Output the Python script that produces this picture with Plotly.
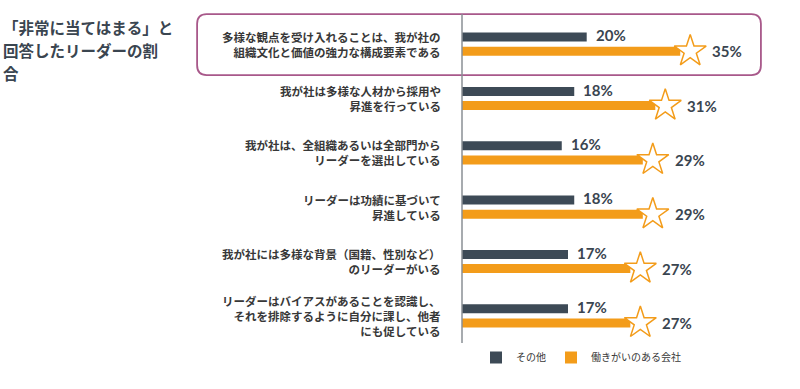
import plotly.graph_objects as go

categories = [
    "多様な観点を受け入れることは、我が社の<br>組織文化と価値の強力な構成要素である",
    "我が社は多様な人材から採用や<br>昇進を行っている",
    "我が社は、全組織あるいは全部門から<br>リーダーを選出している",
    "リーダーは功績に基づいて<br>昇進している",
    "我が社には多様な背景（国籍、性別など）<br>のリーダーがいる",
    "リーダーはバイアスがあることを認識し、<br>それを排除するように自分に課し、他者<br>にも促している",
]
other_values = [20, 18, 16, 18, 17, 17]
gptw_values = [35, 31, 29, 29, 27, 27]
series_names = ["その他", "働きがいのある会社"]
title_lines = ["「非常に当てはまる」と", "回答したリーダーの割", "合"]

DARK = "#3d4a56"
ORANGE = "#f39c1a"
TEXT = "#3a4550"
LABEL = "#383838"
BOX = "#a8588a"

ids = list(range(len(categories)))

fig = go.Figure()
fig.add_trace(go.Bar(y=ids, x=other_values, orientation="h", name=series_names[0],
                     marker=dict(color=DARK, line=dict(width=0))))
fig.add_trace(go.Bar(y=ids, x=gptw_values, orientation="h", name=series_names[1],
                     marker=dict(color=ORANGE, line=dict(width=0))))

# stars at the end of the orange bars (drawn in the orange bar's slot)
fig.add_trace(go.Scatter(
    x=[v + 1.6 for v in gptw_values], y=ids, mode="markers",
    marker=dict(symbol="star", size=24, color="white", line=dict(color=ORANGE, width=1.5)),
    showlegend=False, hoverinfo="skip",
    xaxis="x", yaxis="y2",
))

annotations = []
# title, one annotation per line
for k, line in enumerate(title_lines):
    annotations.append(dict(text=line, xref="paper", yref="paper", x=-1.428, xshift=-7,
                            y=1.0, yshift=-10 - 23 * k,
                            xanchor="left", yanchor="middle", align="left", showarrow=False,
                            font=dict(family="Noto Sans CJK JP", size=15.5, color=TEXT, weight="bold")))
for i, (cat, o, g) in enumerate(zip(categories, other_values, gptw_values)):
    annotations.append(dict(text=cat, xref="paper", yref="y", x=0, y=i, xshift=-19,
                            xanchor="right", yanchor="middle", align="right", showarrow=False,
                            font=dict(family="Noto Sans CJK JP", size=11.5, color=LABEL, weight="bold")))
    annotations.append(dict(text=f"{o}%", xref="x", yref="y", x=o, y=i, xshift=7, yshift=9,
                            xanchor="left", yanchor="middle", showarrow=False,
                            font=dict(family="Lato", size=15, color=TEXT, weight="bold")))
    annotations.append(dict(text=f"{g}%", xref="x", yref="y", x=g, y=i, xshift=30, yshift=-7,
                            xanchor="left", yanchor="middle", showarrow=False,
                            font=dict(family="Lato", size=15, color=TEXT, weight="bold")))

# rounded highlight box around first row
x0, x1, y0, y1 = -0.833, 0.940, 0.822, 1.009
rx, ry = 0.03, 0.03
path = (f"M {x0+rx},{y0} L {x1-rx},{y0} Q {x1},{y0} {x1},{y0+ry} "
        f"L {x1},{y1-ry} Q {x1},{y1} {x1-rx},{y1} L {x0+rx},{y1} Q {x0},{y1} {x0},{y1-ry} "
        f"L {x0},{y0+ry} Q {x0},{y0} {x0+rx},{y0} Z")
shapes = [
    dict(type="path", path=path, xref="paper", yref="paper",
         line=dict(color=BOX, width=1.8), fillcolor="rgba(0,0,0,0)", layer="below"),
    dict(type="line", xref="paper", yref="paper", x0=0, x1=0, y0=0, y1=1.009,
         line=dict(color="#8a8f94", width=1.5)),
]

fig.update_layout(
    width=800, height=389,
    margin=dict(l=462, r=20, t=17, b=46),
    paper_bgcolor="white", plot_bgcolor="white",
    barmode="group", bargap=0.48, bargroupgap=0.36,
    xaxis=dict(range=[0, 51], visible=False, fixedrange=True),
    yaxis=dict(range=[len(categories) - 0.5, -0.5], visible=False, fixedrange=True),
    yaxis2=dict(range=[len(categories) - 0.5 - 0.13, -0.5 - 0.13], visible=False,
                overlaying="y", fixedrange=True),
    showlegend=True,
    legend=dict(orientation="h", x=0.044, y=0.0, xanchor="left", yanchor="top",
                font=dict(family="Noto Sans CJK JP", size=10, color=LABEL),
                itemwidth=30, traceorder="normal"),
    annotations=annotations, shapes=shapes,
)
fig.write_html("out.html", config={"displayModeBar": False},
               post_script="document.body.style.margin='0px';")
